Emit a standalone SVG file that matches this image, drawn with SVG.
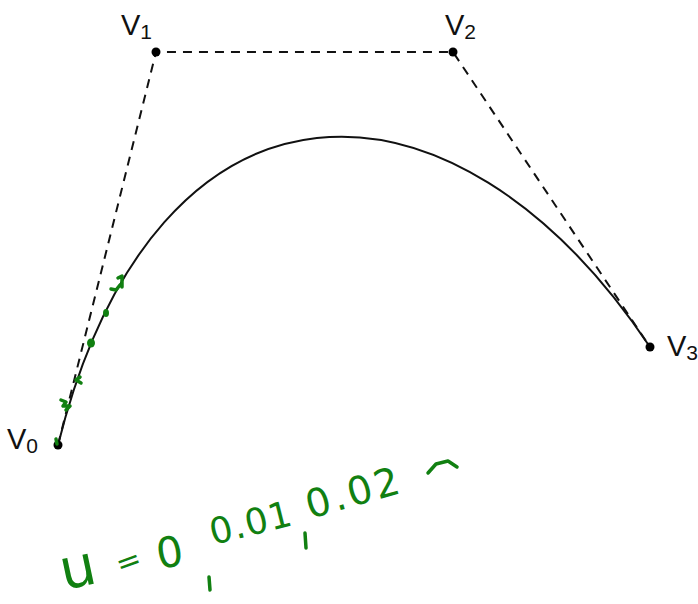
<svg xmlns="http://www.w3.org/2000/svg" width="698" height="604" viewBox="0 0 698 604">
<style>
.lbl{font-family:"Liberation Sans",Arial,sans-serif;font-size:29px;fill:#111}
.sub{font-size:21px}
.poly{fill:none;stroke:#111;stroke-width:2;stroke-dasharray:9,7}
.curve{fill:none;stroke:#111;stroke-width:2}
.pt{fill:#000}
.hw{font-family:"DejaVu Sans",sans-serif;fill:#118011}
.mk{fill:none;stroke:#118011;stroke-width:3.5;stroke-linecap:round;stroke-linejoin:round}
</style>
<rect width="698" height="604" fill="#fff"/>
<g id="connectors">
<path class="poly" d="M58,445 L156,52 L453,52 L650,347"/>
<path class="curve" d="M58,445 C156,52 453,52 650,347"/>
</g>
<g id="V0"><circle class="pt" cx="58" cy="445" r="4.5"/><text class="lbl" x="7" y="449">V<tspan class="sub" dy="4">0</tspan></text></g>
<g id="V1"><circle class="pt" cx="156" cy="52" r="4.5"/><text class="lbl" x="121" y="35">V<tspan class="sub" dy="4">1</tspan></text></g>
<g id="V2"><circle class="pt" cx="453" cy="52" r="4.5"/><text class="lbl" x="445" y="35">V<tspan class="sub" dy="4">2</tspan></text></g>
<g id="V3"><circle class="pt" cx="650" cy="347" r="4.5"/><text class="lbl" x="667" y="356">V<tspan class="sub" dy="4">3</tspan></text></g>
<g id="marks">
<path class="mk" d="M56,439 L57,444"/>
<path class="mk" d="M61,400 L66,402 L63,406 L70,406 L66,410"/>
<path class="mk" d="M80,377 L76,380 L81,383"/>
<ellipse cx="91" cy="343" rx="4" ry="4.5" fill="#118011"/>
<ellipse cx="106" cy="313" rx="3" ry="4" fill="#118011"/>
<path class="mk" d="M111,289 L116,290 L120,285 M118,278 L122,276 L122,287"/>
</g>
<g id="annotation">
<text class="hw" x="64" y="590" font-size="56" transform="rotate(-12 64 590)">u</text>
<text class="hw" x="120" y="575" font-size="30" transform="rotate(-20 120 575)">=</text>
<text class="hw" x="159" y="569" font-size="42" transform="rotate(-10 159 569)">0</text>
<path class="mk" d="M209,577 L210,590"/>
<text class="hw" x="213" y="545" font-size="36" letter-spacing="1" transform="rotate(-14 213 545)">0.01</text>
<path class="mk" d="M305,533 L306,548"/>
<text class="hw" x="310" y="519" font-size="39" letter-spacing="3" transform="rotate(-16 310 519)">0.02</text>
<path class="mk" d="M428,473 L436,464 L448,461 L457,467"/>
</g>
</svg>
